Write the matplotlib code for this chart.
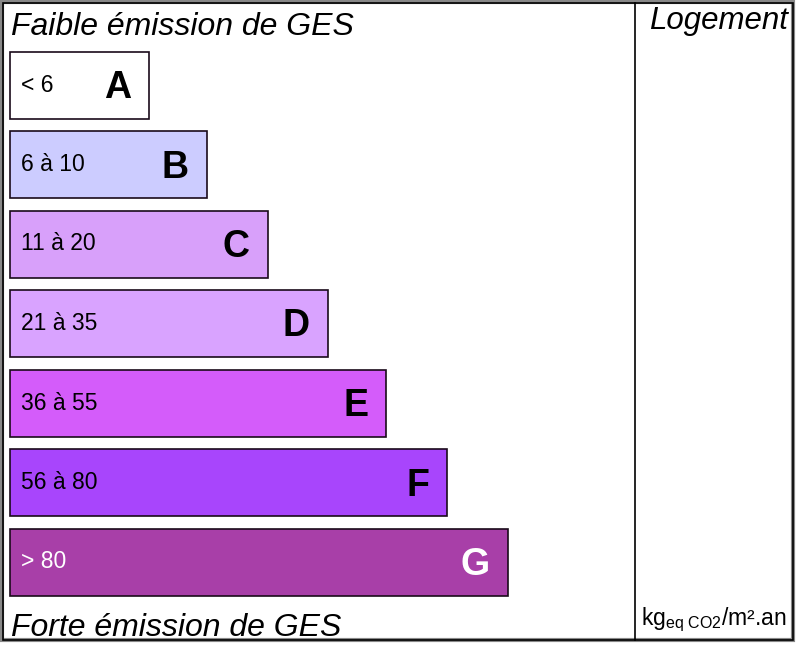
import matplotlib
matplotlib.use("Agg")
import matplotlib.pyplot as plt
from matplotlib.patches import Rectangle
import numpy as np

# GES label data
classes = ["A", "B", "C", "D", "E", "F", "G"]
ranges = ["< 6", "6 à 10", "11 à 20", "21 à 35", "36 à 55", "56 à 80", "> 80"]
bar_lengths = [139, 197, 258, 318, 376, 437, 498]
colors = ["#ffffff", "#ccccff", "#d8a0fa", "#d9a3ff", "#d45cfa", "#a845fc", "#a83fa8"]
text_colors = ["black", "black", "black", "black", "black", "black", "white"]

top_title = "Faible émission de GES"
bottom_title = "Forte émission de GES"
column_title = "Logement"
unit_label = r"kg$_{\mathrm{eq\ CO2}}$/m².an"

plt.rcParams["font.family"] = ["Liberation Sans", "DejaVu Sans"]
plt.rcParams["mathtext.fontset"] = "custom"
plt.rcParams["mathtext.rm"] = "Liberation Sans"
plt.rcParams["mathtext.it"] = "Liberation Sans:italic"

fig = plt.figure(figsize=(8, 6.49), dpi=100)
ax = fig.add_axes([0, 0, 1, 1])
ax.set_xlim(0, 800)
ax.set_ylim(649, 0)
ax.axis("off")

# frame
ax.add_patch(Rectangle((2, 2), 791, 638, fill=False, edgecolor="#888888", lw=3))
ax.add_patch(Rectangle((3, 3), 790, 637, fill=False, edgecolor="black", lw=1.2))
ax.plot([635, 635], [3, 640], color="black", lw=1.2)

# bars
rows = 85 + np.arange(len(classes)) * 79.5
ax.barh(rows, bar_lengths, height=67, left=10, color=colors,
        edgecolor="#1a0a1a", linewidth=1.2)

for y, w, cls, rng, tc in zip(rows, bar_lengths, classes, ranges, text_colors):
    ax.text(21, y, rng, ha="left", va="center", fontsize=16.5, color=tc)
    ax.text(10 + w - 18, y + 3, cls, ha="right", va="center", fontsize=27,
            fontweight="bold", color=tc)

ax.text(11, 35, top_title, ha="left", va="baseline", fontsize=23, style="italic")
ax.text(11, 636, bottom_title, ha="left", va="baseline", fontsize=23, style="italic")
ax.text(788, 29, column_title, ha="right", va="baseline", fontsize=22.5, style="italic")
ax.text(641, 625, unit_label, ha="left", va="baseline", fontsize=16.5)

fig.savefig("out.png", dpi=100)
